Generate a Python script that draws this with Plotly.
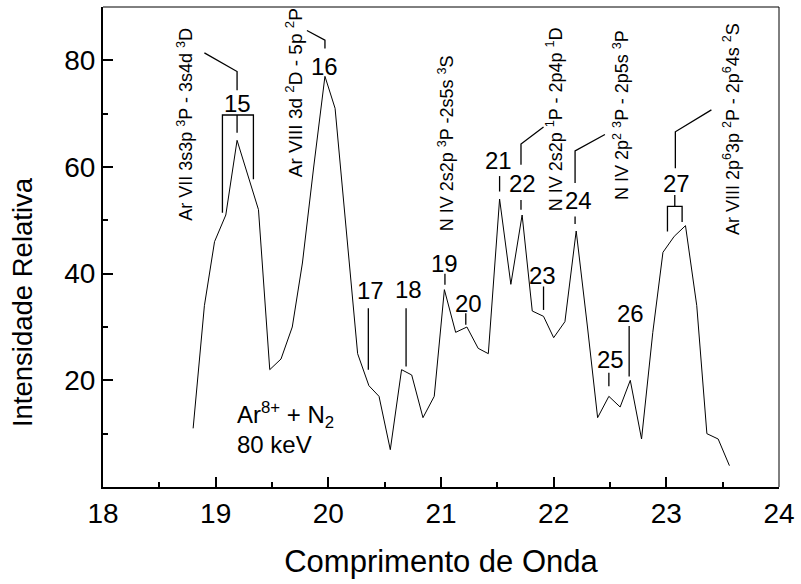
import plotly.graph_objects as go

# ---- data ----
wavelength = [18.80, 18.90, 18.99, 19.09, 19.19, 19.29, 19.38, 19.48, 19.58, 19.68,
              19.77, 19.87, 19.97, 20.06, 20.16, 20.26, 20.36, 20.45, 20.55, 20.65,
              20.74, 20.84, 20.94, 21.03, 21.13, 21.23, 21.33, 21.42, 21.52, 21.62,
              21.72, 21.81, 21.91, 22.00, 22.10, 22.20, 22.30, 22.39, 22.49, 22.59,
              22.68, 22.78, 22.88, 22.97, 23.07, 23.17, 23.27, 23.36, 23.46, 23.56]
intensity = [11, 34, 46, 51, 65, 58, 52, 22, 24, 30,
             42, 60, 77, 71, 48, 25, 19, 17, 7, 22,
             21, 13, 17, 37, 29, 30, 26, 25, 54, 38,
             51, 33, 32, 28, 31, 48, 30, 13, 17, 15,
             20, 9, 29, 44, 47, 49, 34, 10, 9, 4]

peak_labels = ["15", "16", "17", "18", "19", "20", "21", "22", "23", "24", "25", "26", "27"]
peak_label_x = [19.19, 19.97, 20.37, 20.71, 21.03, 21.24, 21.51, 21.72, 21.90, 22.22, 22.50, 22.68, 23.09]
peak_label_y = [71.9, 78.8, 36.9, 37.0, 42.0, 34.4, 61.3, 56.9, 39.75, 53.8, 23.9, 32.6, 56.9]

transition_labels = [
    "Ar VII 3s3p <sup>3</sup>P - 3s4d <sup>3</sup>D",
    "Ar VIII 3d <sup>2</sup>D - 5p <sup>2</sup>P",
    "N IV 2s2p <sup>3</sup>P -2s5s <sup>3</sup>S",
    "N IV 2s2p <sup>1</sup>P - 2p4p <sup>1</sup>D",
    "N IV 2p<sup>2</sup> <sup>3</sup>P - 2p5s <sup>3</sup>P",
    "Ar VIII 2p<sup>6</sup>3p <sup>2</sup>P - 2p<sup>6</sup>4s <sup>2</sup>S",
]
transition_x = [18.73, 19.69, 21.045, 22.01, 22.60, 23.585]
transition_bottom = [49.5, 57.7, 47.6, 51.3, 53.5, 46.9]
transition_size = [18, 19, 18, 18, 18, 18]

# leader / bracket line paths (wavelength, intensity)
leader_paths = [
    [(19.06, 51.4), (19.06, 69.75), (19.335, 69.75), (19.335, 57.7)],
    [(19.19, 69.75), (19.19, 66.4)],
    [(19.19, 74.4), (19.19, 77.9), (18.90, 81.4)],
    [(19.97, 82.2), (19.97, 83.8), (19.81, 85.6)],
    [(20.355, 33.5), (20.355, 22.0)],
    [(20.69, 33.5), (20.69, 22.6)],
    [(21.035, 40.0), (21.035, 37.9)],
    [(21.22, 32.6), (21.22, 30.4)],
    [(21.52, 58.3), (21.52, 55.4)],
    [(21.71, 53.8), (21.71, 52.0)],
    [(21.71, 60.4), (21.71, 64.3), (21.91, 67.5)],
    [(21.91, 37.6), (21.91, 33.2)],
    [(22.19, 50.7), (22.19, 49.3)],
    [(22.19, 57.0), (22.19, 63.0), (22.455, 66.1)],
    [(22.49, 21.4), (22.49, 18.9)],
    [(22.67, 30.2), (22.67, 20.7)],
    [(23.075, 54.75), (23.075, 52.6)],
    [(23.01, 47.9), (23.01, 52.6), (23.14, 52.6), (23.14, 49.7)],
    [(23.08, 59.75), (23.08, 66.6), (23.40, 70.7)],
]

x_ticks = [18, 19, 20, 21, 22, 23, 24]
y_ticks = [20, 40, 60, 80]

FONT = "Liberation Sans, Arial, sans-serif"

fig = go.Figure()
fig.add_trace(go.Scatter(x=wavelength, y=intensity, mode="lines",
                         line=dict(color="black", width=1), showlegend=False,
                         hoverinfo="skip"))

for path in leader_paths:
    fig.add_trace(go.Scatter(x=[p[0] for p in path], y=[p[1] for p in path],
                             mode="lines", line=dict(color="black", width=1.3),
                             showlegend=False, hoverinfo="skip"))

annotations = []
for t, x, y in zip(peak_labels, peak_label_x, peak_label_y):
    annotations.append(dict(x=x, y=y, text=t, showarrow=False, xanchor="center",
                            yanchor="middle", font=dict(size=24, color="black", family=FONT)))
for t, x, y, s in zip(transition_labels, transition_x, transition_bottom, transition_size):
    annotations.append(dict(x=x, y=y, text=t, showarrow=False, textangle=-90,
                            xanchor="center", yanchor="bottom",
                            font=dict(size=s, color="black", family=FONT)))
annotations.append(dict(x=19.17, y=13.5, text="Ar<sup>8+</sup> + N<sub>2</sub>", showarrow=False,
                        xanchor="left", yanchor="middle",
                        font=dict(size=24, color="black", family=FONT)))
annotations.append(dict(x=19.17, y=7.9, text="80 keV", showarrow=False,
                        xanchor="left", yanchor="middle",
                        font=dict(size=24, color="black", family=FONT)))
# y-axis title
annotations.append(dict(xref="paper", yref="paper", x=-0.120, y=0.385,
                        text="Intensidade Relativa", showarrow=False, textangle=-90,
                        xanchor="center", yanchor="middle",
                        font=dict(size=27.5, color="black", family=FONT)))

fig.update_layout(
    width=801, height=584,
    margin=dict(l=103, r=22, t=7, b=97),
    paper_bgcolor="white", plot_bgcolor="white",
    font=dict(family=FONT, color="black"),
    annotations=annotations,
    shapes=[
        dict(type="line", xref="paper", yref="paper", x0=0, x1=1, y0=1, y1=1,
             line=dict(color="black", width=1)),
        dict(type="line", xref="paper", yref="paper", x0=1, x1=1, y0=0, y1=1,
             line=dict(color="black", width=1)),
    ],
)
fig.update_xaxes(range=[18, 24], tickvals=x_ticks, ticktext=[str(v) for v in x_ticks],
                 ticks="inside", ticklen=10, tickwidth=1.5, tickcolor="black",
                 minor=dict(tickvals=[18.5, 19.5, 20.5, 21.5, 22.5, 23.5], ticks="inside",
                            ticklen=5, tickwidth=1.5, tickcolor="black"),
                 showline=True, linecolor="black", linewidth=2, showgrid=False, zeroline=False,
                 tickfont=dict(size=28, family=FONT, color="black"),
                 title=dict(text="Comprimento de Onda", font=dict(size=31, family=FONT, color="black"),
                            standoff=23))
fig.update_yaxes(range=[0, 90], tickvals=y_ticks, ticktext=[str(v) for v in y_ticks],
                 ticks="inside", ticklen=10, tickwidth=1.5, tickcolor="black",
                 minor=dict(tickvals=[10, 30, 50, 70], ticks="inside",
                            ticklen=5, tickwidth=1.5, tickcolor="black"),
                 showline=True, linecolor="black", linewidth=2, showgrid=False, zeroline=False,
                 tickfont=dict(size=28, family=FONT, color="black"))

fig.write_html("out.html")
